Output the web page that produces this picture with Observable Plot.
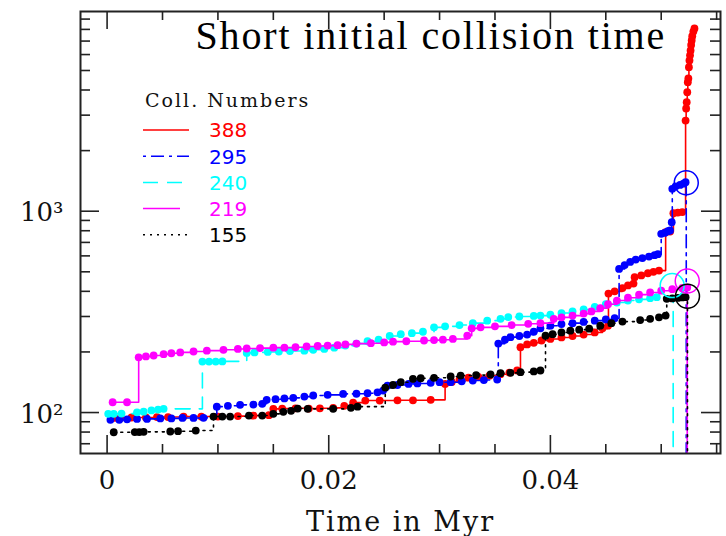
<!DOCTYPE html>
<html><head><meta charset="utf-8">
<script src="https://cdn.jsdelivr.net/npm/d3@7"></script>
<script src="https://cdn.jsdelivr.net/npm/@observablehq/plot@0.6"></script>
<style>html,body{margin:0;padding:0;background:#fff;}#chart{width:726px;height:536px;}</style>
</head><body><div id="chart"></div>
<script>
// ---------- data ----------
const titleText = "Short initial collision time";
const xAxisLabel = "Time in Myr";
const legendTitle = "Coll. Numbers";
const seriesNames = ["388", "295", "240", "219", "155"];
const seriesColors = ["#ff0000", "#0000ff", "#00ffff", "#ff00ff", "#000000"];
const seriesDash = [null, "3,5,13,5", "15,9", null, "2,5"];

// [time (Myr), value]
const s388 = [[0.0006,94],[0.0012,94],[0.0022,94.5],[0.0035,94.5],[0.0045,95],[0.0055,95],[0.0069,95.5],[0.0085,95.5],[0.0100,95.5],[0.0118,96],[0.0132,96.5],[0.0146,97],
[0.0150,104.3],[0.0158,104.7],[0.0170,105],[0.0182,104.7],[0.0192,105],[0.0204,105.5],[0.0214,108],[0.0222,112],[0.0233,114.7],[0.0246,114.7],[0.0262,115],[0.0276,115],[0.0292,115.6],
[0.0305,138.8],[0.0311,142],[0.0318,146],[0.0326,149],[0.0335,150.5],[0.0345,152.5],[0.0355,155],[0.0363,158],[0.0370,161.7],
[0.0373,211],[0.0379,218],[0.0385,222],[0.0392,228],[0.0400,232],[0.0410,236],[0.0420,240],[0.0430,244],[0.0440,250],[0.0447,262],[0.0452,270],
[0.04524,390],[0.0458,400],[0.0465,415],[0.0470,428],[0.0475,437],
[0.0476,470],[0.0482,480],[0.0488,492],[0.0493,500],[0.0498,507],
[0.0504,787],[0.0508,792],
[0.0511,977],[0.0515,985],[0.0519,990],
[0.0522,2819],[0.05225,3237],[0.0523,3479],[0.05235,3902],[0.0524,4374],[0.05245,4563],[0.0525,5194],[0.05255,5606],[0.0526,5950],[0.05265,6285],[0.0527,6700],[0.05275,7047],[0.0528,7400],[0.0529,7800],[0.0530,8084]];

const s295 = [[0.0003,92],[0.0011,92],[0.0018,92.5],[0.0027,93],[0.0036,93],[0.0048,93.5],[0.0058,93.5],[0.0068,94],[0.0078,94],[0.0087,94.1],
[0.0099,107],[0.0109,108],[0.0120,109.2],[0.0132,109.6],[0.0140,110.5],[0.0144,115.6],[0.0152,116.5],[0.0160,117.5],[0.0168,118.3],[0.0178,120],[0.0186,121.5],[0.0199,122.4],[0.0213,123.8],[0.0225,124],[0.0235,124.7],[0.0244,126],[0.0249,128.6],[0.0253,136],[0.0262,137],[0.0272,138.8],[0.0280,139.5],[0.0292,140.5],[0.0300,141.5],[0.0310,141.5],[0.0320,143],[0.0330,144.2],[0.0340,145],[0.0352,145.9],
[0.0353,220],[0.0359,230],[0.0364,236.8],[0.0372,240],[0.0379,244],[0.0385,252],[0.0391,262],[0.0400,270],[0.0410,275],[0.0420,278],[0.0430,282],[0.0440,286],[0.0450,290],[0.0458,294],
[0.0462,517],[0.0467,540],[0.0472,560],[0.0477,575],[0.0483,585],[0.0489,595],[0.0494,605],[0.0497,612],
[0.0500,772],[0.0503,780],[0.0506,795],[0.0508,802],[0.05095,882],
[0.0510,1292],[0.0513,1330],[0.0517,1350],[0.0520,1370],[0.0522,1393]];

const s240 = [[0.0001,98.5],[0.0006,98.5],[0.0013,98.8],[0.0027,100.3],[0.0033,101],[0.0040,102.5],[0.0046,103.5],[0.0051,104.3],
[0.0086,179.2],[0.0092,179.2],[0.0098,179.2],[0.0104,179.5],
[0.0126,197.8],[0.0133,199],[0.0145,200],[0.0155,201],[0.0165,202],[0.0178,203],[0.0186,205],[0.0196,207],[0.0205,210],[0.0215,215],[0.0225,220],[0.0235,226],[0.0245,230],[0.0255,240],[0.0265,245],[0.0275,248],[0.0285,252],[0.0295,265],[0.0305,268],[0.0318,272],[0.0330,278],[0.0343,286],[0.0355,292],[0.0362,298],[0.0372,300],[0.0385,302],[0.0391,303],[0.0400,306],[0.0410,312],[0.0420,318],[0.0430,325],[0.0440,335],[0.0450,345],[0.0460,352],[0.0470,360],[0.0480,365],[0.0490,370],[0.0496,374]];

const s219 = [[0.0005,112.5],[0.0018,112.5],
[0.00285,188],[0.0035,190],[0.0042,192],[0.0051,195],[0.0058,197],[0.0066,199],[0.0078,201],[0.0090,203],[0.0105,205],[0.0118,207],[0.0126,208],[0.0138,209],[0.0150,210],[0.0160,210],[0.0170,211],[0.0180,213],[0.0190,214],[0.0199,215],[0.0208,216],[0.0215,218],[0.0225,220],[0.0238,221],[0.0250,223],[0.0258,225],[0.0270,226],[0.0286,228],[0.0295,229],[0.0303,230],[0.0312,232],
[0.0325,241],[0.0329,262],[0.0337,265],[0.0350,268],[0.0365,272],[0.0380,276],[0.0391,278],
[0.0403,292],[0.0410,297],[0.0420,303],[0.0430,310],[0.0437,318],[0.0445,330],[0.0452,345],[0.0460,360],[0.0470,372],[0.0480,385],[0.0490,395],[0.0500,403],[0.0510,410],[0.0519,416],[0.05235,418]];

const s155 = [[0.0006,79.8],[0.0025,80],[0.0029,80],[0.0033,80.2],[0.0057,80.5],[0.0064,80.8],[0.0080,81.4],
[0.0096,95.5],[0.0104,95.5],[0.0111,95.5],[0.0128,96.6],[0.0140,96.6],[0.0150,98.5],[0.0159,100.8],[0.0166,102],[0.0172,104.7],[0.0181,104.3],[0.0204,104.3],[0.0220,105.5],[0.0226,107],
[0.0251,133],[0.0258,137],[0.0265,141.5],[0.0276,147.1],[0.0283,148],[0.0295,148.8],[0.0310,151],[0.0319,152.7],[0.0333,153.5],[0.0346,154.5],[0.0355,156.9],[0.0364,157.5],[0.0373,158.7],[0.0385,160],[0.0391,161.7],
[0.03956,241],[0.0402,245],[0.0410,250],[0.0418,255],[0.0426,258],[0.0435,261],[0.0445,270],[0.0455,278],[0.0465,283],[0.0481,288],[0.0490,292],[0.0498,297],[0.0504,303],
[0.0505,367],[0.0510,369],[0.0515,371],[0.0519,373],[0.0522,374]];

const seriesData = [s388, s295, s240, s219, s155];
// time at which each track drops out (null = no drop)
const dropTimes = [null, 0.05226, 0.05108, 0.05235, 0.05237];
// final open-circle markers [time, value, series]
const finalMarkers = [[0.05226,1384,"295"],[0.05099,427,"240"],[0.05235,450,"219"],[0.05237,378,"155"]];

const xMajor = [0, 0.02, 0.04];
const xTickLabels = ["0", "0.02", "0.04"];
const xMinor = [0.005,0.01,0.015,0.025,0.03,0.035,0.045,0.05,0.055];
const yMajor = [100, 1000];
const yTickLabels = ["10\u00B2", "10\u00B3"];
const yMinor = [70,80,90,200,300,400,500,600,700,800,900,2000,3000,4000,5000,6000,7000,8000,9000];

// ---------- chart ----------
const W = 726, H = 536, mL = 80, mR = 6, mT = 11, mB = 83;
const pw = W - mL - mR, ph = H - mT - mB;
const axisColor = "#222";
const serif = "DejaVu Serif";

const marks = [];
seriesData.forEach((pts, i) => {
  const rows = pts.map(([t, v]) => ({t, v}));
  const lineRows = dropTimes[i] == null ? rows : rows.concat([{t: dropTimes[i], v: rows[rows.length-1].v}, {t: dropTimes[i], v: 1}]);
  marks.push(Plot.line(lineRows, {x: "t", y: "v", stroke: seriesColors[i], strokeWidth: 1.6,
    strokeDasharray: seriesDash[i], curve: "step-after", clip: true}));
  marks.push(Plot.dot(rows, {x: "t", y: "v", r: 3.9, fill: seriesColors[i], stroke: "none", clip: true}));
});
marks.push(Plot.dot(finalMarkers, {x: d => d[0], y: d => d[1], r: 12, fill: "none",
  stroke: d => seriesColors[seriesNames.indexOf(d[2])], strokeWidth: 1.5}));

// ticks (inward, mirrored)
const tk = {stroke: axisColor, strokeWidth: 1.6};
marks.push(Plot.tickX(xMajor, {x: d => d, insetTop: ph - 18, ...tk}));
marks.push(Plot.tickX(xMajor, {x: d => d, insetBottom: ph - 18, ...tk}));
marks.push(Plot.tickX(xMinor, {x: d => d, insetTop: ph - 9, ...tk}));
marks.push(Plot.tickX(xMinor, {x: d => d, insetBottom: ph - 9, ...tk}));
marks.push(Plot.tickY(yMajor, {y: d => d, insetRight: pw - 19, ...tk}));
marks.push(Plot.tickY(yMajor, {y: d => d, insetLeft: pw - 19, ...tk}));
marks.push(Plot.tickY(yMinor, {y: d => d, insetRight: pw - 10, ...tk}));
marks.push(Plot.tickY(yMinor, {y: d => d, insetLeft: pw - 10, ...tk}));
marks.push(Plot.frame({stroke: axisColor, strokeWidth: 2}));

// tick labels
marks.push(Plot.text(xMajor, {x: d => d, text: (d, i) => xTickLabels[i], frameAnchor: "bottom", dy: 35,
  lineAnchor: "bottom", fontSize: 26, fontFamily: serif, fill: "#111"}));
marks.push(Plot.text(yMajor, {y: d => d, text: (d, i) => yTickLabels[i], frameAnchor: "left", textAnchor: "end",
  dx: -17, dy: 10, lineAnchor: "bottom", fontSize: 26, fontFamily: serif, fill: "#111"}));
marks.push(Plot.text([xAxisLabel], {frameAnchor: "bottom", dy: 77, lineAnchor: "bottom", fontSize: 27,
  fontFamily: serif, fill: "#111"}));
marks.push(Plot.text([titleText], {frameAnchor: "top-left", dx: 115, dy: 37, textAnchor: "start", lineAnchor: "bottom",
  fontSize: 40, fontFamily: "Liberation Serif", fill: "#000"}));

const svg = Plot.plot({
  width: W, height: H, marginLeft: mL, marginRight: mR, marginTop: mT, marginBottom: mB,
  x: {domain: [-0.0024, 0.05535], axis: null},
  y: {type: "log", domain: [62.6, 9817], axis: null},
  style: {background: "#fff", overflow: "visible"},
  marks
});
document.getElementById("chart").appendChild(svg);

const sel = d3.select(svg);
sel.selectAll("text").filter(function() { return this.textContent === titleText; }).attr("letter-spacing", "1.85px");
sel.selectAll("text").filter(function() { return this.textContent === xAxisLabel; }).attr("letter-spacing", "2px");

// legend
const lg = sel.append("g").attr("class", "legend").attr("text-anchor", "start");
lg.append("text").attr("x", 145).attr("y", 107).attr("font-family", serif).attr("font-size", 19)
  .attr("letter-spacing", "2px").attr("fill", "#111").attr("text-anchor", "start").text(legendTitle);
const sampleEnd = [189, 189, 183, 180, 187];
seriesNames.forEach((name, i) => {
  const y = 130 + 26.2 * i;
  lg.append("line").attr("x1", 143).attr("x2", sampleEnd[i]).attr("y1", y).attr("y2", y)
    .attr("stroke", seriesColors[i]).attr("stroke-width", 1.5)
    .attr("stroke-dasharray", seriesDash[i]);
  lg.append("text").attr("x", 209).attr("y", y + 7.3).attr("font-family", "DejaVu Sans").attr("font-size", 20)
    .attr("text-anchor", "start").attr("fill", seriesColors[i]).text(name);
});
</script></body></html>
